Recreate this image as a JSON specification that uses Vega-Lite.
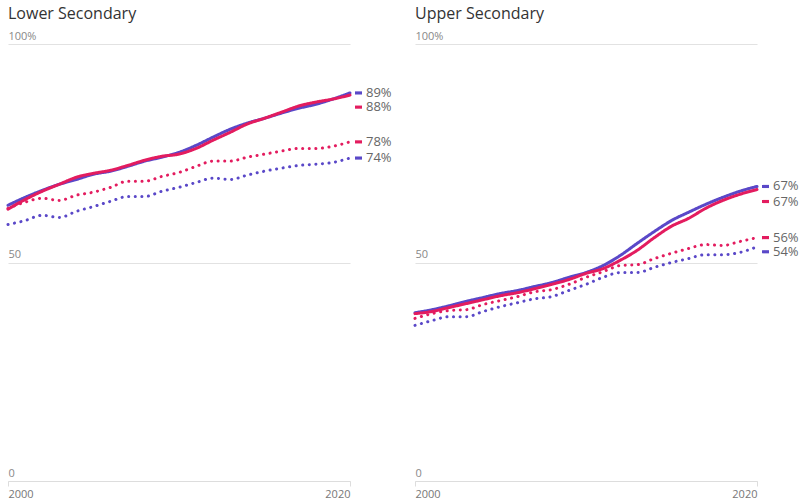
{
  "$schema": "https://vega.github.io/schema/vega-lite/v6.json",
  "padding": {"left": 2, "top": 6, "right": 0, "bottom": 0},
  "config": {
    "view": {"stroke": null},
    "font": "Open Sans",
    "title": {"anchor": "start", "frame": "group", "fontSize": 16, "fontWeight": "normal", "color": "#333333", "offset": 8},
    "axisY": {"grid": true, "gridColor": "#e2e2e2", "gridWidth": 1.2, "domain": false, "ticks": false, "labelAlign": "left", "labelBaseline": "bottom", "labelPadding": 0, "labelOffset": -3, "labelColor": "#888888", "labelFontSize": 11, "title": null},
    "axisX": {"labelFlush": true, "domain": true, "domainColor": "#dddddd", "domainWidth": 1.2, "ticks": true, "tickColor": "#dddddd", "tickSize": 5, "grid": false, "labelPadding": 2, "labelColor": "#777777", "labelFontSize": 11, "title": null}
  },
  "data": {"values": [
    {"panel":"Lower Secondary","group":"A","style":"solid","year":2000,"value":63.1},
    {"panel":"Lower Secondary","group":"A","style":"solid","year":2001,"value":64.9},
    {"panel":"Lower Secondary","group":"A","style":"solid","year":2002,"value":66.5},
    {"panel":"Lower Secondary","group":"A","style":"solid","year":2003,"value":67.9},
    {"panel":"Lower Secondary","group":"A","style":"solid","year":2004,"value":69.0},
    {"panel":"Lower Secondary","group":"A","style":"solid","year":2005,"value":70.2},
    {"panel":"Lower Secondary","group":"A","style":"solid","year":2006,"value":70.9},
    {"panel":"Lower Secondary","group":"A","style":"solid","year":2007,"value":72.0},
    {"panel":"Lower Secondary","group":"A","style":"solid","year":2008,"value":73.2},
    {"panel":"Lower Secondary","group":"A","style":"solid","year":2009,"value":74.1},
    {"panel":"Lower Secondary","group":"A","style":"solid","year":2010,"value":75.2},
    {"panel":"Lower Secondary","group":"A","style":"solid","year":2011,"value":76.8},
    {"panel":"Lower Secondary","group":"A","style":"solid","year":2012,"value":78.7},
    {"panel":"Lower Secondary","group":"A","style":"solid","year":2013,"value":80.5},
    {"panel":"Lower Secondary","group":"A","style":"solid","year":2014,"value":81.9},
    {"panel":"Lower Secondary","group":"A","style":"solid","year":2015,"value":83.0},
    {"panel":"Lower Secondary","group":"A","style":"solid","year":2016,"value":84.2},
    {"panel":"Lower Secondary","group":"A","style":"solid","year":2017,"value":85.3},
    {"panel":"Lower Secondary","group":"A","style":"solid","year":2018,"value":86.2},
    {"panel":"Lower Secondary","group":"A","style":"solid","year":2019,"value":87.4},
    {"panel":"Lower Secondary","group":"A","style":"solid","year":2020,"value":88.8},
    {"panel":"Lower Secondary","group":"A","style":"dotted","year":2000,"value":58.7},
    {"panel":"Lower Secondary","group":"A","style":"dotted","year":2001,"value":59.6},
    {"panel":"Lower Secondary","group":"A","style":"dotted","year":2002,"value":60.8},
    {"panel":"Lower Secondary","group":"A","style":"dotted","year":2003,"value":60.3},
    {"panel":"Lower Secondary","group":"A","style":"dotted","year":2004,"value":61.7},
    {"panel":"Lower Secondary","group":"A","style":"dotted","year":2005,"value":62.8},
    {"panel":"Lower Secondary","group":"A","style":"dotted","year":2006,"value":64.0},
    {"panel":"Lower Secondary","group":"A","style":"dotted","year":2007,"value":65.1},
    {"panel":"Lower Secondary","group":"A","style":"dotted","year":2008,"value":65.1},
    {"panel":"Lower Secondary","group":"A","style":"dotted","year":2009,"value":66.3},
    {"panel":"Lower Secondary","group":"A","style":"dotted","year":2010,"value":67.2},
    {"panel":"Lower Secondary","group":"A","style":"dotted","year":2011,"value":68.3},
    {"panel":"Lower Secondary","group":"A","style":"dotted","year":2012,"value":69.3},
    {"panel":"Lower Secondary","group":"A","style":"dotted","year":2013,"value":69.0},
    {"panel":"Lower Secondary","group":"A","style":"dotted","year":2014,"value":70.0},
    {"panel":"Lower Secondary","group":"A","style":"dotted","year":2015,"value":70.9},
    {"panel":"Lower Secondary","group":"A","style":"dotted","year":2016,"value":71.6},
    {"panel":"Lower Secondary","group":"A","style":"dotted","year":2017,"value":72.2},
    {"panel":"Lower Secondary","group":"A","style":"dotted","year":2018,"value":72.5},
    {"panel":"Lower Secondary","group":"A","style":"dotted","year":2019,"value":72.9},
    {"panel":"Lower Secondary","group":"A","style":"dotted","year":2020,"value":73.9},
    {"panel":"Lower Secondary","group":"B","style":"solid","year":2000,"value":62.2},
    {"panel":"Lower Secondary","group":"B","style":"solid","year":2001,"value":64.4},
    {"panel":"Lower Secondary","group":"B","style":"solid","year":2002,"value":66.3},
    {"panel":"Lower Secondary","group":"B","style":"solid","year":2003,"value":67.9},
    {"panel":"Lower Secondary","group":"B","style":"solid","year":2004,"value":69.5},
    {"panel":"Lower Secondary","group":"B","style":"solid","year":2005,"value":70.4},
    {"panel":"Lower Secondary","group":"B","style":"solid","year":2006,"value":71.1},
    {"panel":"Lower Secondary","group":"B","style":"solid","year":2007,"value":72.2},
    {"panel":"Lower Secondary","group":"B","style":"solid","year":2008,"value":73.4},
    {"panel":"Lower Secondary","group":"B","style":"solid","year":2009,"value":74.3},
    {"panel":"Lower Secondary","group":"B","style":"solid","year":2010,"value":74.8},
    {"panel":"Lower Secondary","group":"B","style":"solid","year":2011,"value":76.1},
    {"panel":"Lower Secondary","group":"B","style":"solid","year":2012,"value":78.0},
    {"panel":"Lower Secondary","group":"B","style":"solid","year":2013,"value":79.8},
    {"panel":"Lower Secondary","group":"B","style":"solid","year":2014,"value":81.7},
    {"panel":"Lower Secondary","group":"B","style":"solid","year":2015,"value":83.0},
    {"panel":"Lower Secondary","group":"B","style":"solid","year":2016,"value":84.4},
    {"panel":"Lower Secondary","group":"B","style":"solid","year":2017,"value":85.8},
    {"panel":"Lower Secondary","group":"B","style":"solid","year":2018,"value":86.7},
    {"panel":"Lower Secondary","group":"B","style":"solid","year":2019,"value":87.4},
    {"panel":"Lower Secondary","group":"B","style":"solid","year":2020,"value":88.3},
    {"panel":"Lower Secondary","group":"B","style":"dotted","year":2000,"value":62.4},
    {"panel":"Lower Secondary","group":"B","style":"dotted","year":2001,"value":63.8},
    {"panel":"Lower Secondary","group":"B","style":"dotted","year":2002,"value":64.7},
    {"panel":"Lower Secondary","group":"B","style":"dotted","year":2003,"value":64.2},
    {"panel":"Lower Secondary","group":"B","style":"dotted","year":2004,"value":65.4},
    {"panel":"Lower Secondary","group":"B","style":"dotted","year":2005,"value":66.1},
    {"panel":"Lower Secondary","group":"B","style":"dotted","year":2006,"value":67.2},
    {"panel":"Lower Secondary","group":"B","style":"dotted","year":2007,"value":68.6},
    {"panel":"Lower Secondary","group":"B","style":"dotted","year":2008,"value":68.6},
    {"panel":"Lower Secondary","group":"B","style":"dotted","year":2009,"value":69.7},
    {"panel":"Lower Secondary","group":"B","style":"dotted","year":2010,"value":70.6},
    {"panel":"Lower Secondary","group":"B","style":"dotted","year":2011,"value":72.0},
    {"panel":"Lower Secondary","group":"B","style":"dotted","year":2012,"value":73.2},
    {"panel":"Lower Secondary","group":"B","style":"dotted","year":2013,"value":73.2},
    {"panel":"Lower Secondary","group":"B","style":"dotted","year":2014,"value":74.1},
    {"panel":"Lower Secondary","group":"B","style":"dotted","year":2015,"value":74.8},
    {"panel":"Lower Secondary","group":"B","style":"dotted","year":2016,"value":75.5},
    {"panel":"Lower Secondary","group":"B","style":"dotted","year":2017,"value":76.1},
    {"panel":"Lower Secondary","group":"B","style":"dotted","year":2018,"value":76.1},
    {"panel":"Lower Secondary","group":"B","style":"dotted","year":2019,"value":76.6},
    {"panel":"Lower Secondary","group":"B","style":"dotted","year":2020,"value":77.6},
    {"panel":"Upper Secondary","group":"A","style":"solid","year":2000,"value":38.5},
    {"panel":"Upper Secondary","group":"A","style":"solid","year":2001,"value":39.2},
    {"panel":"Upper Secondary","group":"A","style":"solid","year":2002,"value":40.1},
    {"panel":"Upper Secondary","group":"A","style":"solid","year":2003,"value":41.1},
    {"panel":"Upper Secondary","group":"A","style":"solid","year":2004,"value":42.0},
    {"panel":"Upper Secondary","group":"A","style":"solid","year":2005,"value":42.9},
    {"panel":"Upper Secondary","group":"A","style":"solid","year":2006,"value":43.6},
    {"panel":"Upper Secondary","group":"A","style":"solid","year":2007,"value":44.5},
    {"panel":"Upper Secondary","group":"A","style":"solid","year":2008,"value":45.4},
    {"panel":"Upper Secondary","group":"A","style":"solid","year":2009,"value":46.6},
    {"panel":"Upper Secondary","group":"A","style":"solid","year":2010,"value":47.7},
    {"panel":"Upper Secondary","group":"A","style":"solid","year":2011,"value":49.3},
    {"panel":"Upper Secondary","group":"A","style":"solid","year":2012,"value":51.6},
    {"panel":"Upper Secondary","group":"A","style":"solid","year":2013,"value":54.4},
    {"panel":"Upper Secondary","group":"A","style":"solid","year":2014,"value":57.1},
    {"panel":"Upper Secondary","group":"A","style":"solid","year":2015,"value":59.6},
    {"panel":"Upper Secondary","group":"A","style":"solid","year":2016,"value":61.5},
    {"panel":"Upper Secondary","group":"A","style":"solid","year":2017,"value":63.3},
    {"panel":"Upper Secondary","group":"A","style":"solid","year":2018,"value":64.9},
    {"panel":"Upper Secondary","group":"A","style":"solid","year":2019,"value":66.3},
    {"panel":"Upper Secondary","group":"A","style":"solid","year":2020,"value":67.4},
    {"panel":"Upper Secondary","group":"A","style":"dotted","year":2000,"value":35.6},
    {"panel":"Upper Secondary","group":"A","style":"dotted","year":2001,"value":36.7},
    {"panel":"Upper Secondary","group":"A","style":"dotted","year":2002,"value":37.6},
    {"panel":"Upper Secondary","group":"A","style":"dotted","year":2003,"value":37.6},
    {"panel":"Upper Secondary","group":"A","style":"dotted","year":2004,"value":38.8},
    {"panel":"Upper Secondary","group":"A","style":"dotted","year":2005,"value":39.9},
    {"panel":"Upper Secondary","group":"A","style":"dotted","year":2006,"value":40.8},
    {"panel":"Upper Secondary","group":"A","style":"dotted","year":2007,"value":41.7},
    {"panel":"Upper Secondary","group":"A","style":"dotted","year":2008,"value":42.2},
    {"panel":"Upper Secondary","group":"A","style":"dotted","year":2009,"value":43.6},
    {"panel":"Upper Secondary","group":"A","style":"dotted","year":2010,"value":45.0},
    {"panel":"Upper Secondary","group":"A","style":"dotted","year":2011,"value":46.6},
    {"panel":"Upper Secondary","group":"A","style":"dotted","year":2012,"value":47.7},
    {"panel":"Upper Secondary","group":"A","style":"dotted","year":2013,"value":47.7},
    {"panel":"Upper Secondary","group":"A","style":"dotted","year":2014,"value":48.9},
    {"panel":"Upper Secondary","group":"A","style":"dotted","year":2015,"value":50.0},
    {"panel":"Upper Secondary","group":"A","style":"dotted","year":2016,"value":50.9},
    {"panel":"Upper Secondary","group":"A","style":"dotted","year":2017,"value":51.8},
    {"panel":"Upper Secondary","group":"A","style":"dotted","year":2018,"value":51.8},
    {"panel":"Upper Secondary","group":"A","style":"dotted","year":2019,"value":52.3},
    {"panel":"Upper Secondary","group":"A","style":"dotted","year":2020,"value":53.6},
    {"panel":"Upper Secondary","group":"B","style":"solid","year":2000,"value":38.3},
    {"panel":"Upper Secondary","group":"B","style":"solid","year":2001,"value":38.8},
    {"panel":"Upper Secondary","group":"B","style":"solid","year":2002,"value":39.7},
    {"panel":"Upper Secondary","group":"B","style":"solid","year":2003,"value":40.6},
    {"panel":"Upper Secondary","group":"B","style":"solid","year":2004,"value":41.5},
    {"panel":"Upper Secondary","group":"B","style":"solid","year":2005,"value":42.4},
    {"panel":"Upper Secondary","group":"B","style":"solid","year":2006,"value":43.1},
    {"panel":"Upper Secondary","group":"B","style":"solid","year":2007,"value":44.0},
    {"panel":"Upper Secondary","group":"B","style":"solid","year":2008,"value":45.0},
    {"panel":"Upper Secondary","group":"B","style":"solid","year":2009,"value":46.1},
    {"panel":"Upper Secondary","group":"B","style":"solid","year":2010,"value":47.5},
    {"panel":"Upper Secondary","group":"B","style":"solid","year":2011,"value":48.6},
    {"panel":"Upper Secondary","group":"B","style":"solid","year":2012,"value":50.5},
    {"panel":"Upper Secondary","group":"B","style":"solid","year":2013,"value":52.8},
    {"panel":"Upper Secondary","group":"B","style":"solid","year":2014,"value":55.7},
    {"panel":"Upper Secondary","group":"B","style":"solid","year":2015,"value":58.3},
    {"panel":"Upper Secondary","group":"B","style":"solid","year":2016,"value":60.1},
    {"panel":"Upper Secondary","group":"B","style":"solid","year":2017,"value":62.4},
    {"panel":"Upper Secondary","group":"B","style":"solid","year":2018,"value":64.2},
    {"panel":"Upper Secondary","group":"B","style":"solid","year":2019,"value":65.6},
    {"panel":"Upper Secondary","group":"B","style":"solid","year":2020,"value":66.7},
    {"panel":"Upper Secondary","group":"B","style":"dotted","year":2000,"value":37.2},
    {"panel":"Upper Secondary","group":"B","style":"dotted","year":2001,"value":38.3},
    {"panel":"Upper Secondary","group":"B","style":"dotted","year":2002,"value":39.0},
    {"panel":"Upper Secondary","group":"B","style":"dotted","year":2003,"value":39.2},
    {"panel":"Upper Secondary","group":"B","style":"dotted","year":2004,"value":40.4},
    {"panel":"Upper Secondary","group":"B","style":"dotted","year":2005,"value":41.3},
    {"panel":"Upper Secondary","group":"B","style":"dotted","year":2006,"value":42.2},
    {"panel":"Upper Secondary","group":"B","style":"dotted","year":2007,"value":43.3},
    {"panel":"Upper Secondary","group":"B","style":"dotted","year":2008,"value":43.8},
    {"panel":"Upper Secondary","group":"B","style":"dotted","year":2009,"value":45.0},
    {"panel":"Upper Secondary","group":"B","style":"dotted","year":2010,"value":46.6},
    {"panel":"Upper Secondary","group":"B","style":"dotted","year":2011,"value":47.9},
    {"panel":"Upper Secondary","group":"B","style":"dotted","year":2012,"value":49.3},
    {"panel":"Upper Secondary","group":"B","style":"dotted","year":2013,"value":49.5},
    {"panel":"Upper Secondary","group":"B","style":"dotted","year":2014,"value":50.9},
    {"panel":"Upper Secondary","group":"B","style":"dotted","year":2015,"value":52.1},
    {"panel":"Upper Secondary","group":"B","style":"dotted","year":2016,"value":53.2},
    {"panel":"Upper Secondary","group":"B","style":"dotted","year":2017,"value":54.1},
    {"panel":"Upper Secondary","group":"B","style":"dotted","year":2018,"value":53.9},
    {"panel":"Upper Secondary","group":"B","style":"dotted","year":2019,"value":54.8},
    {"panel":"Upper Secondary","group":"B","style":"dotted","year":2020,"value":55.7}
  ]},
  "transform": [{"calculate": "format(datum.value, '.0f') + '%'", "as": "label"}],
  "spacing": 17,
  "hconcat": [
    {
      "width": 342, "height": 437,
      "title": {"text": "Lower Secondary"},
      "transform": [{"filter": "datum.panel === 'Lower Secondary'"}],
      "encoding": {
        "x": {"field": "year", "type": "quantitative", "scale": {"domain": [2000, 2020]}, "axis": {"values": [2000, 2020], "format": "d"}},
        "y": {"field": "value", "type": "quantitative", "scale": {"domain": [0, 100]}, "axis": {"values": [0, 50, 100], "labelExpr": "datum.value == 100 ? '100%' : datum.label"}},
        "color": {"field": "group", "type": "nominal", "scale": {"domain": ["A", "B"], "range": ["#5a48c8", "#e31c5f"]}, "legend": null}
      },
      "layer": [
        {"mark": {"type": "line", "strokeWidth": 3, "strokeCap": "round", "interpolate": "monotone"},
         "encoding": {"strokeDash": {"field": "style", "type": "nominal", "scale": {"domain": ["solid", "dotted"], "range": [[1, 0], [0.1, 6.5]]}, "legend": null}, "detail": {"field": "style"}}},
        {"transform": [{"filter": "datum.year === 2020 && !(datum.group === 'B' && datum.style === 'solid')"}],
         "mark": {"type": "point", "shape": "M-1,-0.45L1,-0.45L1,0.45L-1,0.45Z", "size": 49, "filled": true, "opacity": 1, "xOffset": 8.5}},
        {"transform": [{"filter": "datum.year === 2020 && !(datum.group === 'B' && datum.style === 'solid')"}],
         "mark": {"type": "text", "align": "left", "baseline": "middle", "dx": 16, "fontSize": 13},
         "encoding": {"text": {"field": "label"}, "color": {"value": "#666666"}}},
        {"transform": [{"filter": "datum.year === 2020 && datum.group === 'B' && datum.style === 'solid'"}],
         "mark": {"type": "point", "shape": "M-1,-0.45L1,-0.45L1,0.45L-1,0.45Z", "size": 49, "filled": true, "opacity": 1, "xOffset": 8.5, "yOffset": 12}},
        {"transform": [{"filter": "datum.year === 2020 && datum.group === 'B' && datum.style === 'solid'"}],
         "mark": {"type": "text", "align": "left", "baseline": "middle", "dx": 16, "fontSize": 13, "yOffset": 12},
         "encoding": {"text": {"field": "label"}, "color": {"value": "#666666"}}}
      ]
    },
    {
      "width": 342, "height": 437,
      "title": {"text": "Upper Secondary"},
      "transform": [{"filter": "datum.panel === 'Upper Secondary'"}],
      "encoding": {
        "x": {"field": "year", "type": "quantitative", "scale": {"domain": [2000, 2020]}, "axis": {"values": [2000, 2020], "format": "d"}},
        "y": {"field": "value", "type": "quantitative", "scale": {"domain": [0, 100]}, "axis": {"values": [0, 50, 100], "labelExpr": "datum.value == 100 ? '100%' : datum.label"}},
        "color": {"field": "group", "type": "nominal", "scale": {"domain": ["A", "B"], "range": ["#5a48c8", "#e31c5f"]}, "legend": null}
      },
      "layer": [
        {"mark": {"type": "line", "strokeWidth": 3, "strokeCap": "round", "interpolate": "monotone"},
         "encoding": {"strokeDash": {"field": "style", "type": "nominal", "scale": {"domain": ["solid", "dotted"], "range": [[1, 0], [0.1, 6.5]]}, "legend": null}, "detail": {"field": "style"}}},
        {"transform": [{"filter": "datum.year === 2020 && ((datum.group === 'A' && datum.style === 'solid') || (datum.group === 'B' && datum.style === 'dotted'))"}],
         "mark": {"type": "point", "shape": "M-1,-0.45L1,-0.45L1,0.45L-1,0.45Z", "size": 49, "filled": true, "opacity": 1, "xOffset": 8.5}},
        {"transform": [{"filter": "datum.year === 2020 && ((datum.group === 'A' && datum.style === 'solid') || (datum.group === 'B' && datum.style === 'dotted'))"}],
         "mark": {"type": "text", "align": "left", "baseline": "middle", "dx": 16, "fontSize": 13},
         "encoding": {"text": {"field": "label"}, "color": {"value": "#666666"}}},
        {"transform": [{"filter": "datum.year === 2020 && datum.group === 'B' && datum.style === 'solid'"}],
         "mark": {"type": "point", "shape": "M-1,-0.45L1,-0.45L1,0.45L-1,0.45Z", "size": 49, "filled": true, "opacity": 1, "xOffset": 8.5, "yOffset": 12}},
        {"transform": [{"filter": "datum.year === 2020 && datum.group === 'B' && datum.style === 'solid'"}],
         "mark": {"type": "text", "align": "left", "baseline": "middle", "dx": 16, "fontSize": 13, "yOffset": 12},
         "encoding": {"text": {"field": "label"}, "color": {"value": "#666666"}}},
        {"transform": [{"filter": "datum.year === 2020 && datum.group === 'A' && datum.style === 'dotted'"}],
         "mark": {"type": "point", "shape": "M-1,-0.45L1,-0.45L1,0.45L-1,0.45Z", "size": 49, "filled": true, "opacity": 1, "xOffset": 8.5, "yOffset": 5}},
        {"transform": [{"filter": "datum.year === 2020 && datum.group === 'A' && datum.style === 'dotted'"}],
         "mark": {"type": "text", "align": "left", "baseline": "middle", "dx": 16, "fontSize": 13, "yOffset": 5},
         "encoding": {"text": {"field": "label"}, "color": {"value": "#666666"}}}
      ]
    }
  ]
}
